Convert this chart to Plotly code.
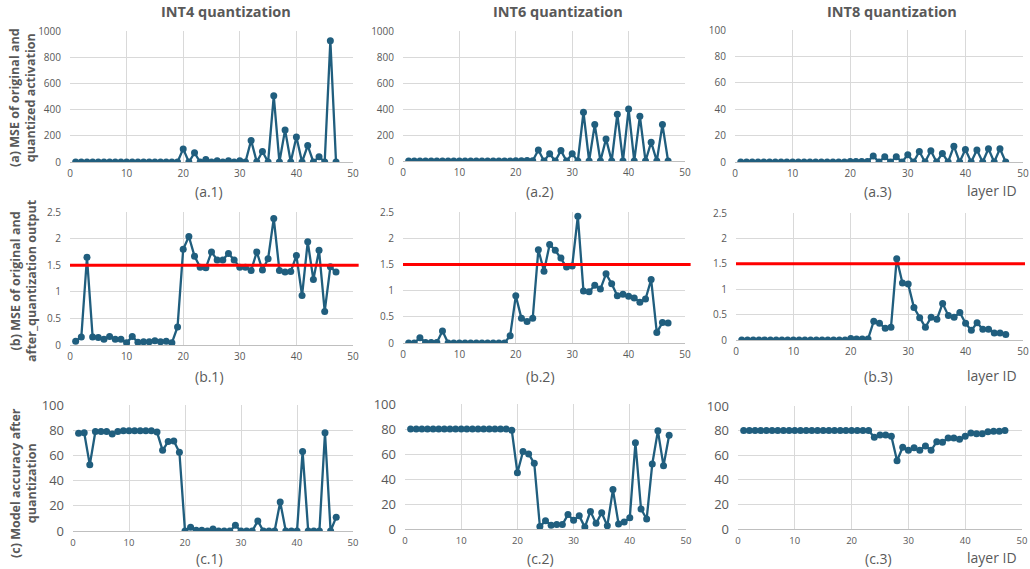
import plotly.graph_objects as go

layer_ids = list(range(1, 48))

mse_act_int4 = [0]*19 + [100, 0, 70, 0, 20, 0, 10, 0, 10, 0, 10, 0, 165, 0, 80, 0, 505, 0, 245, 0, 190, 0, 125, 0, 40, 0, 925, 0]
mse_act_int6 = [0]*19 + [2, 2, 3, 2, 85, 0, 55, 0, 80, 0, 55, 0, 375, 0, 280, 0, 170, 0, 360, 0, 400, 0, 345, 0, 145, 0, 280, 0]
mse_act_int8 = [0]*19 + [0.3, 0.3, 0.3, 0.3, 4.5, 0, 4, 0, 4, 0, 5.5, 0, 8, 0, 8.5, 0, 6.5, 0, 12, 0, 9.5, 0, 9, 0, 10, 0, 10, 0]

mse_out_int4 = [0.07, 0.15, 1.65, 0.15, 0.14, 0.11, 0.16, 0.11, 0.11, 0.04, 0.16, 0.05, 0.06, 0.06, 0.08, 0.06, 0.07, 0.04, 0.34,
                1.80, 2.04, 1.67, 1.46, 1.45, 1.75, 1.60, 1.60, 1.72, 1.60, 1.46, 1.46, 1.40, 1.75, 1.41, 1.62, 2.38, 1.40, 1.37, 1.38,
                1.68, 0.93, 1.94, 1.23, 1.78, 0.63, 1.47, 1.37]
mse_out_int6 = [0.0, 0.0, 0.10, 0.01, 0.01, 0.01, 0.23, 0.0, 0.0, 0.0, 0.0, 0.0, 0.0, 0.0, 0.0, 0.0, 0.0, 0.0, 0.14,
                0.90, 0.47, 0.41, 0.47, 1.78, 1.37, 1.88, 1.77, 1.62, 1.45, 1.47, 2.42, 0.99, 0.98, 1.10, 1.03, 1.32, 1.13, 0.90, 0.93,
                0.89, 0.86, 0.78, 0.84, 1.21, 0.20, 0.39, 0.38]
mse_out_int8 = [0.0]*19 + [0.03, 0.02, 0.02, 0.02, 0.37, 0.33, 0.23, 0.25, 1.60, 1.12, 1.10, 0.64, 0.44, 0.25, 0.45, 0.41, 0.72,
                0.48, 0.45, 0.54, 0.33, 0.19, 0.34, 0.21, 0.21, 0.14, 0.14, 0.11]

acc_int4 = [77.5, 78, 52.5, 79, 79, 79, 77, 79, 79.5, 79.5, 79.5, 79.5, 79.5, 79.5, 78.5, 64, 71, 71.5, 62.5,
            0, 3, 0.5, 0.5, 0, 1.5, 0, 0, 0, 4.5, 0, 0, 0, 8, 0, 0, 0, 23, 0, 0, 0, 63, 0, 0, 0, 78, 0, 11]
acc_int6 = [80]*18 + [79, 45, 62, 60, 52.5, 2, 6.5, 3, 3.5, 3.5, 11.5, 7, 10.5, 1.5, 14, 4.5, 13, 2.5, 31.5, 4, 5.5, 9,
            69, 16, 8, 52, 78.5, 50.5, 75]
acc_int8 = [80]*23 + [74.5, 76.5, 76.5, 75.5, 55.5, 66.5, 64, 66, 64, 67.5, 64, 71, 70.5, 74, 74, 73, 75.5, 78, 77.5, 77.5,
            79, 79.5, 79.5, 80]

threshold = 1.5

col_titles = ["INT4 quantization", "INT6 quantization", "INT8 quantization"]
row_titles = ["(a) MSE of original and<br>quantized activation",
              "(b) MSE of original and<br>after_quantization output",
              "(c) Model accuracy after<br>quantization"]
sub_labels = [["(a.1)", "(a.2)", "(a.3)"], ["(b.1)", "(b.2)", "(b.3)"], ["(c.1)", "(c.2)", "(c.3)"]]

W, H = 1030, 569
LINE = "#205E7E"
GRID = "#D9D9D9"
TXT = "#595959"
FONT = "Open Sans"

# pixel boxes (left, right, top, bottom) per panel
boxes = [
    [(70, 353, 31, 162), (403, 685, 31, 161), (735, 1023, 30, 162)],
    [(70, 353, 212, 345), (403, 685, 212, 343), (736, 1023, 213, 340)],
    [(73, 353, 405, 531), (405, 686, 404, 529), (738, 1022, 406, 529)],
]
series = [[mse_act_int4, mse_act_int6, mse_act_int8],
          [mse_out_int4, mse_out_int6, mse_out_int8],
          [acc_int4, acc_int6, acc_int8]]
yranges = [[(0, 1000, 200), (0, 1000, 200), (0, 100, 20)],
           [(0, 2.5, 0.5)] * 3,
           [(0, 100, 20)] * 3]

fig = go.Figure()
layout = {}
shapes = []
annotations = []
k = 0
for r in range(3):
    for c in range(3):
        k += 1
        sfx = "" if k == 1 else str(k)
        l, rr, t, b = boxes[r][c]
        fig.add_trace(go.Scatter(
            x=layer_ids, y=series[r][c], mode="lines+markers",
            line=dict(color=LINE, width=2.3), marker=dict(color=LINE, size=7),
            xaxis="x" + sfx, yaxis="y" + sfx, showlegend=False, hoverinfo="x+y"))
        y0, y1, dt = yranges[r][c]
        ytick_size = 13 if r == 2 else 10
        layout["xaxis" + sfx] = dict(
            domain=[l / W, rr / W], anchor="y" + sfx, range=[0, 50], dtick=10,
            showgrid=True, gridcolor=GRID, gridwidth=1, zeroline=False, automargin=False,
            showline=False, tickfont=dict(family=FONT, size=9.5 if r == 2 else 10, color=TXT),
            ticklabelstandoff=4, fixedrange=True)
        layout["yaxis" + sfx] = dict(
            domain=[1 - b / H, 1 - t / H], anchor="x" + sfx, range=[y0, y1], dtick=dt,
            showgrid=True, gridcolor=GRID, gridwidth=1, zeroline=True, zerolinecolor="#BFBFBF",
            zerolinewidth=1, showline=False, automargin=False,
            tickfont=dict(family=FONT, size=ytick_size, color=TXT),
            ticklabelstandoff=8, fixedrange=True)
        if r == 1:
            shapes.append(dict(type="line", xref="x" + sfx + " domain", yref="y" + sfx,
                               x0=0, x1=1.02 if c < 2 else 1.007, y0=threshold, y1=threshold,
                               line=dict(color="#FF0000", width=3), layer="above"))
        # sub label
        ly = [191, 376, 558][r]
        annotations.append(dict(text=sub_labels[r][c], x=[209, 540, 878][c] / W, y=1 - ly / H,
                                xref="paper", yref="paper", showarrow=False,
                                xanchor="center", yanchor="middle",
                                font=dict(family=FONT, size=14, color=TXT)))
        if c == 2:
            annotations.append(dict(text="layer ID", x=992 / W, y=1 - (ly - 1) / H,
                                    xref="paper", yref="paper", showarrow=False,
                                    xanchor="center", yanchor="middle",
                                    font=dict(family=FONT, size=14, color=TXT)))

for c, (title, cx) in enumerate(zip(col_titles, [226, 558, 892])):
    annotations.append(dict(text="<b>" + title + "</b>", x=cx / W, y=1 - 12 / H,
                            xref="paper", yref="paper", showarrow=False,
                            xanchor="center", yanchor="middle",
                            font=dict(family=FONT, size=14.5, color=TXT)))

for r, (title, cy) in enumerate(zip(row_titles, [98, 281, 483])):
    annotations.append(dict(text="<b>" + title + "</b>", x=23 / W, y=1 - cy / H,
                            xref="paper", yref="paper", showarrow=False, textangle=-90,
                            xanchor="center", yanchor="middle",
                            font=dict(family=FONT, size=12.5, color=TXT)))

fig.update_layout(width=W, height=H, margin=dict(l=0, r=0, t=0, b=0, autoexpand=False),
                  paper_bgcolor="white", plot_bgcolor="white",
                  shapes=shapes, annotations=annotations, **layout)

fig.write_html("out.html", config={"displayModeBar": False},
               post_script="document.body.style.margin='0';document.body.style.padding='0';"
                           "document.body.style.overflow='hidden';")
